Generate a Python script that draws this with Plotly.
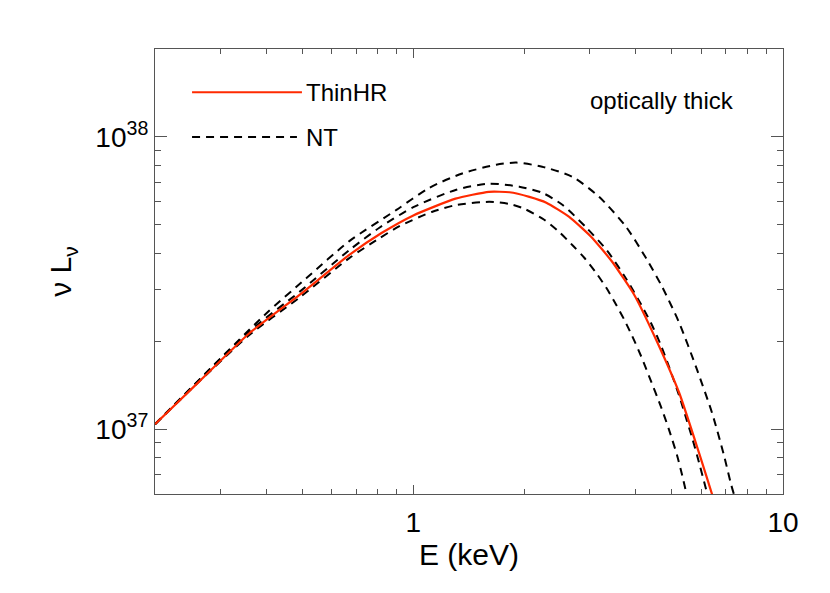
import plotly.graph_objects as go

# ---- data (E in keV, nuLnu in erg/s) ----
thin_E = [0.2, 0.264, 0.36, 0.492, 0.671, 0.82, 1.0, 1.3, 1.6, 1.82,
          2.06, 2.29, 2.64, 3.03, 3.45, 3.96, 4.54, 5.24, 5.93, 6.43, 6.7]
thin_L = [1.04e37, 1.46e37, 2.13e37, 2.88e37, 3.95e37, 4.69e37, 5.39e37, 6.15e37, 6.49e37, 6.47e37,
          6.24e37, 5.96e37, 5.33e37, 4.55e37, 3.74e37, 2.88e37, 2.02e37, 1.33e37, 8.28e36, 5.98e36, 5.0e36]

nt_hi_E = [0.2, 0.396, 0.514, 0.671, 0.9, 1.105, 1.356, 1.676, 1.9, 2.23, 2.69, 3.18,
           3.76, 4.26, 4.71, 5.24, 5.82, 6.43, 6.93, 7.23, 7.6]
nt_hi_L = [1.04e37, 2.46e37, 3.29e37, 4.4e37, 5.63e37, 6.7e37, 7.5e37, 8.04e37, 8.17e37,
           7.91e37, 7.31e37, 6.24e37, 4.93e37, 3.85e37, 3.07e37, 2.31e37, 1.63e37, 1.135e37,
           8.1e36, 6.5e36, 5.25e36]

nt_mid_E = [0.2, 0.36, 0.492, 0.671, 0.809, 1.0, 1.307, 1.604, 1.934, 2.233, 2.53, 2.935, 3.34,
            3.76, 4.16, 4.43, 4.68, 4.92, 5.24, 5.47, 5.68, 5.93, 6.19, 6.49]
nt_mid_L = [1.04e37, 2.16e37, 2.95e37, 4.1e37, 4.89e37, 5.75e37, 6.6e37, 6.92e37, 6.76e37, 6.44e37,
            5.86e37, 4.90e37, 4.09e37, 3.28e37, 2.63e37, 2.26e37, 1.93e37, 1.63e37, 1.30e37,
            1.09e37, 9.33e36, 7.67e36, 6.24e36, 4.95e36]

nt_lo_E = [0.2, 0.36, 0.492, 0.671, 0.809, 0.917, 1.126, 1.307, 1.604, 1.817, 1.995, 2.26, 2.48,
           2.72, 2.90, 3.12, 3.33, 3.54, 3.72, 3.91, 4.13, 4.34, 4.68, 4.92, 5.17, 5.33, 5.56]
nt_lo_L = [1.04e37, 2.10e37, 2.82e37, 3.85e37, 4.5e37, 4.95e37, 5.55e37, 5.85e37, 6.0e37, 5.9e37,
           5.68e37, 5.21e37, 4.73e37, 4.21e37, 3.86e37, 3.43e37, 3.04e37, 2.66e37, 2.37e37,
           2.08e37, 1.78e37, 1.52e37, 1.19e37, 9.93e36, 8.13e36, 7.0e36, 5.56e36]

x_tickvals = [1, 10]
x_ticktext = ["1", "10"]
x_minor = [0.2, 0.3, 0.4, 0.5, 0.6, 0.7, 0.8, 0.9, 2, 3, 4, 5, 6, 7, 8, 9]
y_tickvals = [1e37, 1e38]
y_ticktext = ["10<sup>37</sup>", "10<sup>38</sup>"]
y_minor = [6e36, 7e36, 8e36, 9e36, 2e37, 3e37, 4e37, 5e37, 6e37, 7e37, 8e37, 9e37, 2e38]

FONT = "Liberation Sans, Arial, Helvetica, sans-serif"
DASH = "8px,6px"

fig = go.Figure()
for E, L in [(nt_hi_E, nt_hi_L), (nt_mid_E, nt_mid_L), (nt_lo_E, nt_lo_L)]:
    fig.add_trace(go.Scatter(x=E, y=L, mode="lines", showlegend=False,
                             line=dict(color="black", width=2, dash=DASH, shape="spline", smoothing=0.7)))
fig.add_trace(go.Scatter(x=thin_E, y=thin_L, mode="lines", showlegend=False,
                         line=dict(color="#ff2a00", width=2.2, shape="spline", smoothing=0.5)))

axis_common = dict(showline=True, linecolor="#555555", linewidth=1.2, mirror="allticks",
                   ticks="inside", tickcolor="#555555", tickwidth=1, showgrid=False, zeroline=False,
                   tickfont=dict(family=FONT, size=28, color="black"))

fig.update_xaxes(type="log", range=[-0.69897, 1.0], tickmode="array", tickvals=x_tickvals,
                 ticktext=x_ticktext, ticklen=9, ticklabelstandoff=3,
                 minor=dict(ticks="inside", tickvals=x_minor, ticklen=5, tickcolor="#555555"),
                 title=dict(text="E (keV)", font=dict(family=FONT, size=30, color="black"), standoff=2),
                 **axis_common)
fig.update_yaxes(type="log", range=[36.7782, 38.30103], tickmode="array", tickvals=y_tickvals,
                 ticktext=y_ticktext, ticklen=12,
                 minor=dict(ticks="inside", tickvals=y_minor, ticklen=6, tickcolor="#555555"),
                 title=dict(text="ν L<sub>ν</sub>", font=dict(family=FONT, size=30, color="black"), standoff=14),
                 **axis_common)

# legend drawn inside the plot
fig.add_shape(type="line", xref="paper", yref="paper", x0=0.059, x1=0.234, y0=0.903, y1=0.903,
              line=dict(color="#ff2a00", width=2))
fig.add_shape(type="line", xref="paper", yref="paper", x0=0.059, x1=0.226, y0=0.802, y1=0.802,
              line=dict(color="black", width=2, dash=DASH))
fig.add_annotation(xref="paper", yref="paper", x=0.238, y=0.903, text="ThinHR", showarrow=False,
                   xanchor="left", yanchor="middle", font=dict(family=FONT, size=24, color="black"))
fig.add_annotation(xref="paper", yref="paper", x=0.238, y=0.802, text="NT", showarrow=False,
                   xanchor="left", yanchor="middle", font=dict(family=FONT, size=24, color="black"))
fig.add_annotation(xref="paper", yref="paper", x=0.69, y=0.885, text="optically thick", showarrow=False,
                   xanchor="left", yanchor="middle", font=dict(family=FONT, size=24, color="black"))

# page body adds an 8px offset; margins compensate so the plot area sits at x 155-783, y 49-494
fig.update_layout(width=830, height=593, margin=dict(l=147, r=55, t=41, b=107),
                  paper_bgcolor="white", plot_bgcolor="white", showlegend=False,
                  font=dict(family=FONT, color="black"))

fig.write_html("out.html")
